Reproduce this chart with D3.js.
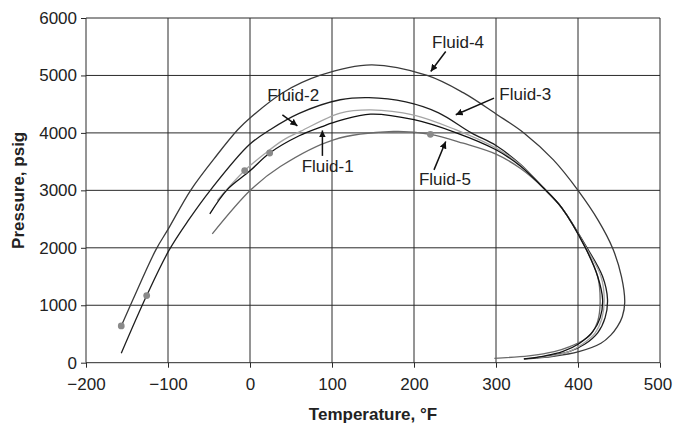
<!DOCTYPE html>
<html>
<head>
<meta charset="utf-8">
<script src="https://cdn.jsdelivr.net/npm/d3@7"></script>
<style>
  html, body { margin: 0; padding: 0; background: #fff; }
  svg { display: block; }
  text { font-family: "Liberation Sans", Arial, Helvetica, sans-serif; fill: #222; }
</style>
</head>
<body>
<svg id="chart" width="673" height="425"></svg>
<script>
// Phase envelopes (temperature °F, pressure psig) for five fluids
const fluid1 = [[-49,2590],[-28,3009],[0,3340],[24,3650],[60,3950],[88,4110],[110,4216],[147,4327],[200,4230],[250,4010],[300,3706],[330,3420],[358,3040],[380,2700],[409,2000],[424,1500],[430,1100],[427,780],[418,540],[402,340],[381,192],[360,120],[334,66]];
const fluid2 = [[-40,2822],[-6.5,3345],[20,3660],[40,3870],[62,4030],[110,4345],[147,4402],[200,4310],[250,4060],[300,3735],[330,3440],[358,3040],[380,2700],[410,2000],[428,1500],[432,1100],[429,760],[421,520],[406,330],[389,192],[370,125],[350,87]];
const fluid3 = [[-157,163],[-126,1168],[-99,1950],[-75,2480],[-48,3009],[-1,3793],[25,4060],[60,4340],[110,4577],[145,4615],[190,4540],[230,4350],[270,4000],[300,3780],[330,3450],[358,3040],[380,2700],[411,2000],[430,1500],[436,1100],[433,780],[424,520],[408,320],[389,192],[370,130],[350,87]];
const fluid4 = [[-157,640],[-143,1090],[-115,1960],[-100,2320],[-72,3010],[-40,3620],[-15,4054],[0,4260],[40,4700],[85,5000],[148,5185],[216,5000],[260,4700],[300,4330],[334,4000],[370,3530],[400,3000],[425,2470],[442,2000],[453,1500],[457,1050],[454,800],[448,627],[440,480],[428,338],[401,192],[370,110],[334,64]];
const fluid5 = [[-46,2242],[1,3009],[37,3415],[102,3880],[175,4024],[220,3975],[260,3820],[300,3630],[330,3380],[358,3040],[380,2700],[409,2000],[424,1500],[427,1050],[424,720],[416,500],[407,395],[390,280],[371,192],[340,120],[298,77]];

// Critical points marked on the envelopes
const criticalPoints = [[-157,640],[-126,1168],[-6.5,3345],[24,3650],[220,3975]];

const xTicks = [-200,-100,0,100,200,300,400,500];
const yTicks = [0,1000,2000,3000,4000,5000,6000];

// Fluid labels: text anchor, arrow tail and arrow tip in data units
const labelNames = ["Fluid-1","Fluid-2","Fluid-3","Fluid-4","Fluid-5"];
const labelText  = [[63,3328],[21,4547],[304,4577],[222,5483],[206,3096]];
const arrowTail  = [[88.3,3600],[39.5,4315],[297.6,4606],[238.7,5418],[224.4,3357]];
const arrowTip   = [[88.3,4042],[57.8,4124],[250.9,4315],[220.4,5070],[238.7,3850]];

const series = [
  { name: "Fluid-4", pts: fluid4, color: "#3a3a3a" },
  { name: "Fluid-3", pts: fluid3, color: "#1e1e1e" },
  { name: "Fluid-2", pts: fluid2, color: "#a4a4a4" },
  { name: "Fluid-5", pts: fluid5, color: "#6a6a6a" },
  { name: "Fluid-1", pts: fluid1, color: "#111111" }
];

const svg = d3.select("#chart");
const x = d3.scaleLinear().domain([-200, 500]).range([86, 660]);
const y = d3.scaleLinear().domain([0, 6000]).range([362.7, 18]);

// grid
const grid = svg.append("g");
grid.selectAll("line.v").data(xTicks).join("line")
  .attr("x1", d => x(d)).attr("x2", d => x(d))
  .attr("y1", y(6000)).attr("y2", y(0))
  .attr("stroke", "#2a2a2a").attr("stroke-width", 1);
grid.selectAll("line.h").data(yTicks).join("line")
  .attr("x1", x(-200)).attr("x2", x(500))
  .attr("y1", d => y(d)).attr("y2", d => y(d))
  .attr("stroke", "#2a2a2a").attr("stroke-width", 1);

// axes
const xAxis = svg.append("g").attr("transform", `translate(0,${y(0)})`)
  .call(d3.axisBottom(x).tickValues(xTicks).tickSize(5).tickPadding(10).tickFormat(d3.format("d")));
const yAxis = svg.append("g").attr("transform", `translate(${x(-200)},0)`)
  .call(d3.axisLeft(y).tickValues(yTicks).tickSize(5).tickPadding(4).tickFormat(d3.format("d")));
[xAxis, yAxis].forEach(g => {
  g.select(".domain").remove();
  g.selectAll(".tick line").attr("stroke", "#2a2a2a");
  g.selectAll(".tick text").attr("font-size", 17).attr("fill", "#222")
    .attr("font-family", "Liberation Sans, Arial, sans-serif");
});
// keep the last temperature label inside the page edge
xAxis.selectAll(".tick text").filter(d => d === 500).attr("dx", -2.5);

// envelopes
const line = d3.line().x(d => x(d[0])).y(d => y(d[1])).curve(d3.curveCatmullRom.alpha(0.5));
svg.append("g").selectAll("path").data(series).join("path")
  .attr("d", d => line(d.pts))
  .attr("fill", "none")
  .attr("stroke", d => d.color)
  .attr("stroke-width", 1.3);

svg.append("g").selectAll("circle").data(criticalPoints).join("circle")
  .attr("cx", d => x(d[0])).attr("cy", d => y(d[1])).attr("r", 3.4)
  .attr("fill", "#8a8a8a");

// annotation arrows
svg.append("defs").append("marker")
  .attr("id", "head").attr("viewBox", "0 0 10 10")
  .attr("refX", 10).attr("refY", 5)
  .attr("markerWidth", 7).attr("markerHeight", 7)
  .attr("markerUnits", "userSpaceOnUse")
  .attr("orient", "auto")
  .append("path").attr("d", "M0,0 L10,5 L0,10 Z").attr("fill", "#111");

const ann = svg.append("g");
labelNames.forEach((name, i) => {
  ann.append("line")
    .attr("x1", x(arrowTail[i][0])).attr("y1", y(arrowTail[i][1]))
    .attr("x2", x(arrowTip[i][0])).attr("y2", y(arrowTip[i][1]))
    .attr("stroke", "#111").attr("stroke-width", 1.5)
    .attr("marker-end", "url(#head)");
  ann.append("text")
    .attr("x", x(labelText[i][0])).attr("y", y(labelText[i][1]))
    .attr("font-size", 17)
    .text(name);
});

// axis titles
svg.append("text")
  .attr("x", (x(-200) + x(500)) / 2).attr("y", 420)
  .attr("text-anchor", "middle").attr("font-size", 17).attr("font-weight", "bold")
  .text("Temperature, °F");
svg.append("text")
  .attr("transform", `translate(24,${(y(0) + y(6000)) / 2}) rotate(-90)`)
  .attr("text-anchor", "middle").attr("font-size", 17).attr("font-weight", "bold")
  .text("Pressure, psig");
</script>
</body>
</html>
